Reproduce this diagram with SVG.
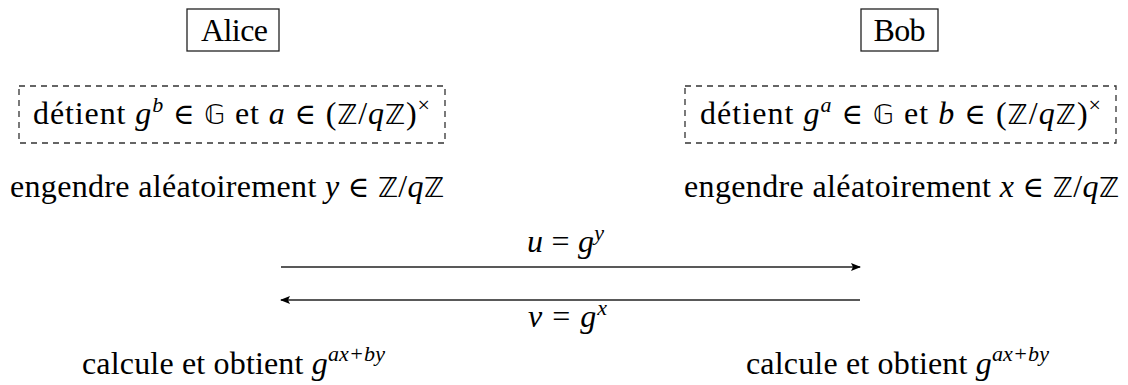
<svg xmlns="http://www.w3.org/2000/svg" width="1128" height="385" viewBox="0 0 1128 385">
<defs>
<marker id="ah" viewBox="0 0 10 8" refX="9" refY="4" markerWidth="11" markerHeight="8" markerUnits="userSpaceOnUse" orient="auto">
<path d="M0,0 L10,4 L0,8 L2,4 Z" fill="#000"/>
</marker>
<style>
text{font-family:"Liberation Serif","DejaVu Serif",serif;font-size:32px;fill:#000}
.m{font-style:italic}
.bb{font-family:"DejaVu Sans",sans-serif;font-size:27px;font-style:normal}
.el{font-family:"DejaVu Serif",serif;font-size:29px;font-style:normal}
.sup{font-size:22px}
.box{fill:#fff;stroke:#222;stroke-width:1.3}
.dbox{fill:none;stroke:#333;stroke-width:1.3;stroke-dasharray:6 5}
.arr{stroke:#222;stroke-width:1.3;fill:none;marker-end:url(#ah)}
</style>
</defs>
<rect width="1128" height="385" fill="#fff"/>

<g id="alice">
<rect class="box" x="187" y="9" width="92" height="42"/>
<text x="201" y="41" textLength="67" lengthAdjust="spacing">Alice</text>
</g>
<g id="bob">
<rect class="box" x="861" y="9" width="77" height="42"/>
<text x="873.5" y="41" textLength="52" lengthAdjust="spacing">Bob</text>
</g>

<g id="alice-holds">
<rect class="dbox" x="19" y="86" width="426" height="57"/>
<text x="33" y="124" textLength="397" lengthAdjust="spacing">détient <tspan class="m">g</tspan><tspan class="m sup" dy="-12">b</tspan><tspan dy="12"> </tspan><tspan class="el">∈</tspan> <tspan class="bb">𝔾</tspan> et <tspan class="m">a</tspan> <tspan class="el">∈</tspan> (<tspan class="bb">ℤ</tspan>/<tspan class="m">q</tspan><tspan class="bb">ℤ</tspan>)<tspan class="sup" dy="-12">×</tspan></text>
</g>
<g id="bob-holds">
<rect class="dbox" x="685" y="86" width="431" height="57"/>
<text x="700" y="124" textLength="401" lengthAdjust="spacing">détient <tspan class="m">g</tspan><tspan class="m sup" dy="-12">a</tspan><tspan dy="12"> </tspan><tspan class="el">∈</tspan> <tspan class="bb">𝔾</tspan> et <tspan class="m">b</tspan> <tspan class="el">∈</tspan> (<tspan class="bb">ℤ</tspan>/<tspan class="m">q</tspan><tspan class="bb">ℤ</tspan>)<tspan class="sup" dy="-12">×</tspan></text>
</g>

<g id="alice-gen">
<text x="10" y="197" textLength="434" lengthAdjust="spacing">engendre aléatoirement <tspan class="m">y</tspan> <tspan class="el">∈</tspan> <tspan class="bb">ℤ</tspan>/<tspan class="m">q</tspan><tspan class="bb">ℤ</tspan></text>
</g>
<g id="bob-gen">
<text x="684" y="197" textLength="435" lengthAdjust="spacing">engendre aléatoirement <tspan class="m">x</tspan> <tspan class="el">∈</tspan> <tspan class="bb">ℤ</tspan>/<tspan class="m">q</tspan><tspan class="bb">ℤ</tspan></text>
</g>

<g id="connectors">
<line class="arr" x1="281" y1="267" x2="860" y2="267"/>
<line class="arr" x1="860" y1="300" x2="281" y2="300"/>
<text x="527" y="252" textLength="77" lengthAdjust="spacing"><tspan class="m">u</tspan> = <tspan class="m">g</tspan><tspan class="m sup" dy="-12">y</tspan></text>
<text x="528" y="327" textLength="79" lengthAdjust="spacing"><tspan class="m">v</tspan> = <tspan class="m">g</tspan><tspan class="m sup" dy="-12">x</tspan></text>
</g>

<g id="alice-result">
<text x="82" y="374" textLength="303" lengthAdjust="spacing">calcule et obtient <tspan class="m">g</tspan><tspan class="m sup" dy="-13">ax+by</tspan></text>
</g>
<g id="bob-result">
<text x="746" y="374" textLength="303" lengthAdjust="spacing">calcule et obtient <tspan class="m">g</tspan><tspan class="m sup" dy="-13">ax+by</tspan></text>
</g>
</svg>
